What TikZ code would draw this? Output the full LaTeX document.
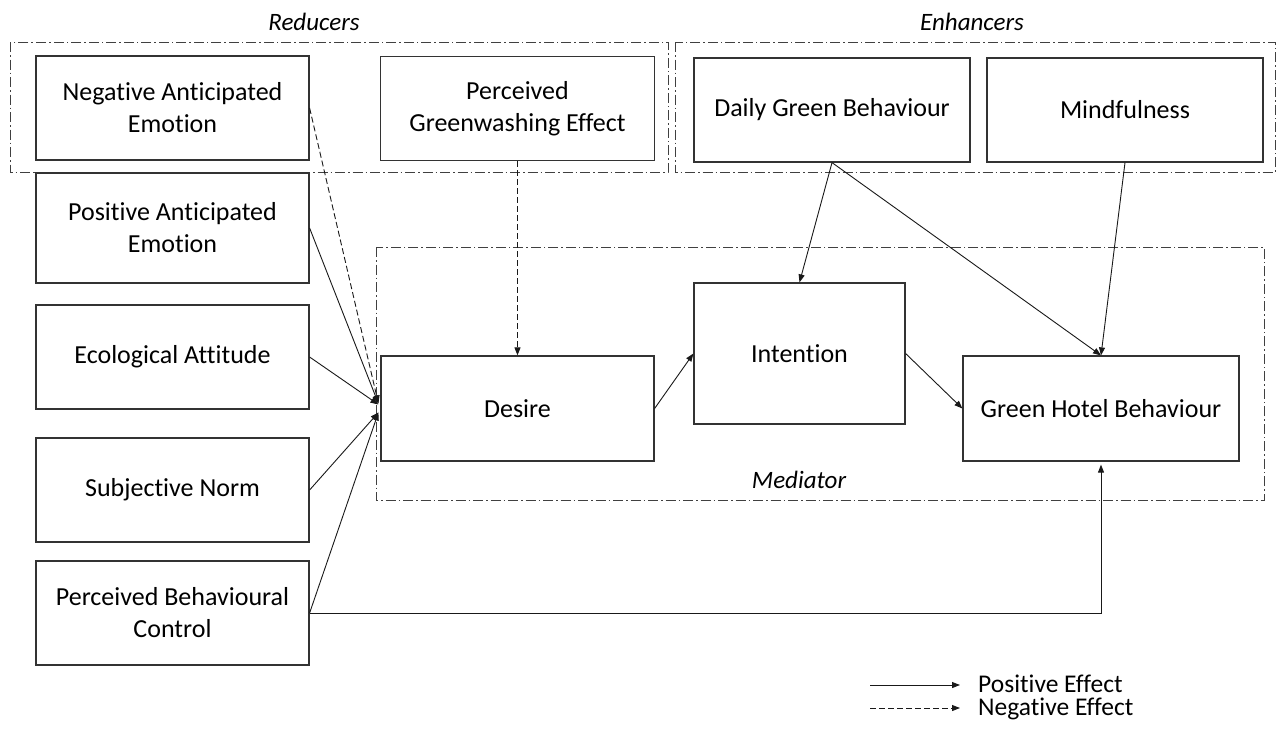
\documentclass[tikz,border=0pt]{standalone}
\usepackage{fontspec}
\setmainfont[Ligatures={NoCommon,NoRequired,NoContextual}]{Carlito}
\usetikzlibrary{arrows.meta,calc}
\begin{document}
\begin{tikzpicture}[x=1pt,y=-1pt,
  nodebox/.style={draw=black!80, line width=1.2pt, minimum width=273pt, minimum height=104pt, inner sep=0pt, align=center, font=\fontsize{26}{32}\selectfont, text=black},
  groupbox/.style={draw=black!75, line width=1pt, dash pattern=on 10pt off 3pt on 1.5pt off 3pt},
  grouplabel/.style={font=\fontsize{25}{30}\selectfont\itshape, text=black, inner sep=0pt},
  legendtext/.style={font=\fontsize{25.5}{30}\selectfont, text=black, inner sep=0pt, anchor=west, text height=18.5pt, text depth=3pt},
  posarrow/.style={draw=black!90, line width=0.9pt, -{Triangle[length=8pt,width=6pt]}},
  negarrow/.style={posarrow, dash pattern=on 6pt off 3pt},
]
\fill[white] (0,0) rectangle (1282,729);
\useasboundingbox (0,0) rectangle (1282,729);

% group boxes
\draw[groupbox] (10,42) rectangle (668,172);
\draw[groupbox] (675,42) rectangle (1275,172);
\draw[groupbox] (376,247) rectangle (1264,500);
\node[grouplabel] (lred) at (314,22) {Reducers};
\node[grouplabel] (lenh) at (972,22) {Enhancers};
\node[grouplabel] (lmed) at (799,480) {Mediator};

% left column
\node[nodebox] (neg) at (172.5,108) {Negative Anticipated\\Emotion};
\node[nodebox, minimum height=110pt] (posem) at (172.5,228) {Positive Anticipated\\Emotion};
\node[nodebox] (eco) at (172.5,357) {Ecological Attitude};
\node[nodebox] (subj) at (172.5,490) {Subjective Norm};
\node[nodebox] (pbc) at (172.5,613) {Perceived Behavioural\\Control};

% top row
\node[nodebox, minimum width=274pt] (pgw) at (517.5,108.5) {Perceived\\Greenwashing Effect};
\node[nodebox, minimum width=276pt] (daily) at (832,110) {Daily Green Behaviour};
\node[nodebox, minimum width=276pt] (mind) at (1125,110) {Mindfulness};

% mediator row
\node[nodebox, minimum height=105pt] (desire) at (517.5,408.5) {Desire};
\node[nodebox, minimum width=211pt, minimum height=141pt] (intent) at (799.5,353.5) {Intention};
\node[nodebox, minimum width=276pt, minimum height=105pt] (ghb) at (1101,408.5) {Green Hotel Behaviour};

% connectors to desire
\draw[negarrow] (neg.east) -- ($(desire.west)+(-2,-5)$);
\draw[posarrow] (posem.east) -- ($(desire.west)+(-2,-5)$);
\draw[posarrow] (eco.east) -- ($(desire.west)+(-2,-4)$);
\draw[posarrow] (subj.east) -- ($(desire.west)+(-2,4)$);
\draw[posarrow] (pbc.east) -- ($(desire.west)+(-2,4)$);
\draw[negarrow] (pgw.south) -- (desire.north);

% mediator chain
\draw[posarrow] (desire.east) -- (intent.west);
\draw[posarrow] (intent.east) -- (ghb.west);
\draw[posarrow] (daily.south) -- (intent.north);
\draw[posarrow] (daily.south) -- (ghb.north);
\draw[posarrow] (mind.south) -- (ghb.north);
\draw[posarrow, shorten >=3pt] (pbc.east) -| (ghb.south);

% legend
\coordinate (ls1) at (870,685);
\coordinate (le1) at (960,685);
\coordinate (ls2) at (870,708);
\coordinate (le2) at (960,708);
\draw[posarrow] (ls1) -- (le1);
\draw[negarrow] (ls2) -- (le2);
\node[legendtext] (tpos) at (978,685) {Positive Effect};
\node[legendtext] (tneg) at (978,708) {Negative Effect};
\end{tikzpicture}
\end{document}
